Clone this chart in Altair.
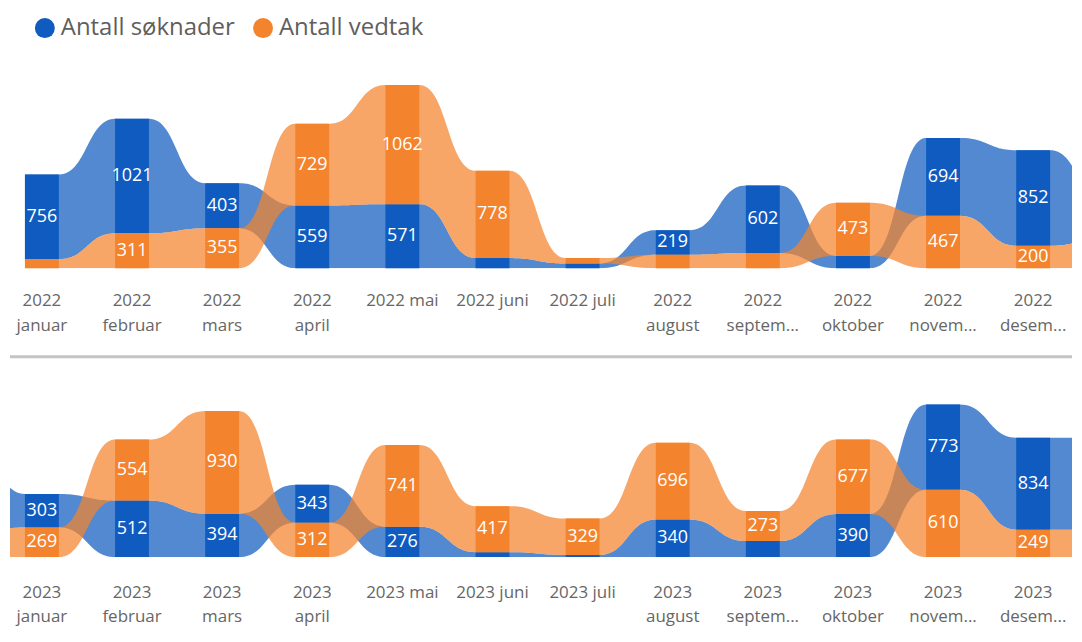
import altair as alt
import pandas as pd
import numpy as np

# ---------------- data ----------------
series = ["Antall søknader", "Antall vedtak"]
months = ["januar", "februar", "mars", "april", "mai", "juni", "juli",
          "august", "septem...", "oktober", "novem...", "desem..."]
inline_months = ["mai", "juni", "juli"]
years = ["2022", "2023"]

soknader_2022 = [756, 1021, 403, 559, 571, 90, 42, 219, 602, 110, 694, 852]
vedtak_2022 = [80, 311, 355, 729, 1062, 778, 48, 120, 135, 473, 467, 200]
soknader_2023 = [303, 512, 394, 343, 276, 45, 20, 340, 145, 390, 773, 834]
vedtak_2023 = [269, 554, 930, 312, 741, 417, 329, 696, 273, 677, 610, 249]

label_min = 190  # smaller values get no data label (do not fit)

# ---------------- style ----------------
BLUE = "#0F5BBF"
ORANGE = "#F4832D"
FONT = "Segoe UI, Open Sans, Noto Sans, sans-serif"
W = 1066
HW = 0.188  # half bar width in column units
XDOM = [-0.354, 11.431]

cscale = alt.Scale(domain=series, range=[BLUE, ORANGE])
xscale = alt.Scale(domain=XDOM, nice=False, zero=False)


def stack(a, b):
    """ribbon chart: larger value on top"""
    if a >= b:
        return {series[0]: (b, a + b), series[1]: (0, b)}
    return {series[0]: (0, a), series[1]: (a, a + b)}


def ribbon_df(cols, right_ext):
    rows = []
    for s in series:
        for k, (idx, st) in enumerate(cols):
            lo, hi = st[s]
            for xx in (idx - HW, idx + HW):
                rows.append(dict(series=s, x=float(xx), lo=float(lo), hi=float(hi)))
            if k < len(cols) - 1:
                nidx, nst = cols[k + 1]
                nlo, nhi = nst[s]
                xa, xb = idx + HW, nidx - HW
                xm = (xa + xb) / 2
                for t in np.linspace(0, 1, 30)[1:-1]:
                    xt = (1 - t) ** 3 * xa + 3 * (1 - t) ** 2 * t * xm + 3 * (1 - t) * t ** 2 * xm + t ** 3 * xb
                    f = 3 * (1 - t) * t ** 2 + t ** 3
                    rows.append(dict(series=s, x=float(xt), lo=float(lo + (nlo - lo) * f),
                                     hi=float(hi + (nhi - hi) * f)))
        if right_ext:
            idx, st = cols[-1]
            lo, hi = st[s]
            rows.append(dict(series=s, x=float(idx + 0.7), lo=float(lo), hi=float(hi)))
    return pd.DataFrame(rows)


def panel(year, sok, ved, prev_col, next_col, height, ymax, label_y, first):
    stacks = [stack(a, b) for a, b in zip(sok, ved)]
    cols = [(i, st) for i, st in enumerate(stacks)]
    if prev_col is not None:
        cols = [(-1, stack(*prev_col))] + cols
    if next_col is not None:
        cols = cols + [(12, stack(*next_col))]
    rib = ribbon_df(cols, right_ext=next_col is None)

    bars = []
    for i, st in enumerate(stacks):
        for s, v in zip(series, (sok[i], ved[i])):
            lo, hi = st[s]
            bars.append(dict(series=s, idx=i, x0=i - HW, x1=i + HW, lo=lo, hi=hi,
                             mid=(lo + hi) / 2, value=v))
    bars = pd.DataFrame(bars)
    labs = pd.DataFrame({
        "idx": list(range(12)),
        "label": [f"{year} {m}" if m in inline_months else f"{year}\n{m}" for m in months],
    })

    yscale = alt.Scale(domain=[0, ymax], nice=False, zero=True)

    if first:
        leg = alt.Legend(orient="none", legendX=23, legendY=7, direction="horizontal",
                         title=None, symbolType="circle", symbolSize=400,
                         symbolOpacity=1, symbolStrokeWidth=0,
                         labelFontSize=24, labelFont=FONT, labelColor="#605E5C",
                         labelLimit=400, labelOffset=4, columnPadding=16, padding=0)
        col_enc = alt.Color("series:N", scale=cscale, legend=leg)
    else:
        col_enc = alt.Color("series:N", scale=cscale, legend=None)

    ribbons = alt.Chart(rib).mark_area(clip=True, opacity=0.72, interpolate="linear",
                                       orient="vertical").encode(
        x=alt.X("x:Q", scale=xscale, axis=None),
        y=alt.Y("lo:Q", scale=yscale, axis=None, stack=None),
        y2=alt.Y2("hi:Q"),
        color=col_enc,
    )
    rects = alt.Chart(bars).mark_rect().encode(
        x=alt.X("x0:Q", scale=xscale, axis=None),
        x2="x1:Q",
        y=alt.Y("lo:Q", scale=yscale, axis=None),
        y2="hi:Q",
        color=col_enc,
    )
    values = alt.Chart(bars).transform_filter(
        alt.datum.value >= label_min
    ).mark_text(color="white", fontSize=18, font=FONT, baseline="middle", align="center").encode(
        x=alt.X("idx:Q", scale=xscale, axis=None),
        y=alt.Y("mid:Q", scale=yscale, axis=None),
        text="value:Q",
    )
    ticks = alt.Chart(labs).mark_text(
        color="#666666", fontSize=17, font=FONT, baseline="top", align="center",
        lineBreak="\n", lineHeight=25
    ).encode(
        x=alt.X("idx:Q", scale=xscale, axis=None),
        y=alt.value(label_y),
        text="label:N",
    )
    layers = [ribbons, rects, values, ticks]
    if first:
        sep = alt.Chart(pd.DataFrame({"a": [0]})).mark_rule(color="#C4C4C4", strokeWidth=3).encode(
            x=alt.value(0), x2=alt.value(W), y=alt.value(349)
        )
        layers.append(sep)
    return alt.layer(*layers).properties(width=W, height=height)


top = panel(years[0], soknader_2022, vedtak_2022, None,
            (soknader_2023[0], vedtak_2023[0]), 260, 2309, 284.6, True)
bottom = panel(years[1], soknader_2023, vedtak_2023,
               (soknader_2022[-1], vedtak_2022[-1]), None, 188, 1698, 215.6, False)

chart = alt.vconcat(top, bottom, spacing=102, bounds="flush", padding=0).resolve_scale(
    color="independent").configure_view(stroke=None)

chart.save("out.html", embed_options={"renderer": "svg", "actions": False})
